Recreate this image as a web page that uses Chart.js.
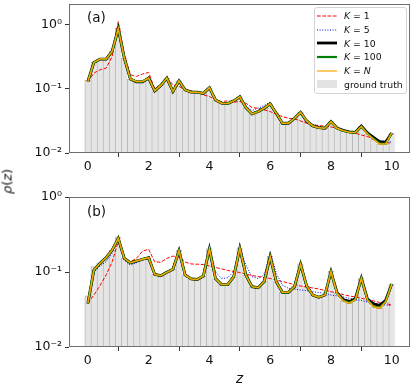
<!DOCTYPE html>
<html>

<head>
  <meta charset="utf-8">
  <title>rho(z)</title>
  <script src="https://cdn.jsdelivr.net/npm/chart.js@4.4.1/dist/chart.umd.min.js"></script>

  <style>
    body {
      margin: 0;
      background-color: white;
      font-family: "DejaVu Sans", sans-serif;
    }

    #wrap {
      position: relative;
      width: 415px;
      height: 390px;
    }

    canvas {
      position: absolute;
      left: 0;
    }

    .tag {
      position: absolute;
      font-size: 13.5px;
      color: #111;
    }

    #ylab {
      position: absolute;
      left: -13px;
      top: 174px;
      width: 40px;
      text-align: center;
      font-size: 13px;
      color: #111;
      transform: rotate(-90deg);
    }

    #legend {
      position: absolute;
      left: 314px;
      top: 7px;
      width: 91px;
      height: 84px;
      border: 1px solid #d4d4d4;
      border-radius: 3px;
      background: rgba(255, 255, 255, 0.8);
      padding-top: 1px;
      font-size: 9.3px;
      color: #111;
    }

    #legend .row {
      height: 13.7px;
      display: flex;
      align-items: center;
      padding-left: 2px;
    }

    #legend svg {
      margin-right: 7px;
    }

    #legend .patch {
      display: inline-block;
      width: 20px;
      height: 8px;
      background: #e3e3e3;
      margin-right: 7px;
    }
  </style>
</head>

<body>
  <div id="wrap">
    <canvas id="chartA" width="415" height="175" style="top:0px"></canvas>
    <canvas id="chartB" width="415" height="215" style="top:175px"></canvas>
    <div class="tag" style="left:87px; top:9px">(a)</div>
    <div class="tag" style="left:87px; top:203px">(b)</div>
    <div id="ylab"><i>ρ</i>(<i>z</i>)</div>
    <div id="legend">
      <div class="row"><svg width="20" height="6"><line x1="0" y1="3" x2="20" y2="3" stroke="#ff0000" stroke-width="1" stroke-dasharray="3.7 1.6"/></svg><span><i>K</i> = 1</span></div>
      <div class="row"><svg width="20" height="6"><line x1="0" y1="3" x2="20" y2="3" stroke="#0000ff" stroke-width="1" stroke-dasharray="1 1.6"/></svg><span><i>K</i> = 5</span></div>
      <div class="row"><svg width="20" height="6"><line x1="0" y1="3" x2="20" y2="3" stroke="#000000" stroke-width="2.8"/></svg><span><i>K</i> = 10</span></div>
      <div class="row"><svg width="20" height="6"><line x1="0" y1="3" x2="20" y2="3" stroke="#008000" stroke-width="2.2"/></svg><span><i>K</i> = 100</span></div>
      <div class="row"><svg width="20" height="6"><line x1="0" y1="3" x2="20" y2="3" stroke="#ffa500" stroke-width="1.2"/></svg><span><i>K</i> = <i>N</i></span></div>
      <div class="row"><span class="patch"></span><span>ground truth</span></div>
    </div>
  </div>

  <script>
    // bin centres (z)
    const zBins = [0, 0.2, 0.4, 0.6, 0.8, 1, 1.2, 1.4, 1.6, 1.8,
      2, 2.2, 2.4, 2.6, 2.8, 3, 3.2, 3.4, 3.6, 3.8,
      4, 4.2, 4.4, 4.6, 4.8, 5, 5.2, 5.4, 5.6, 5.8,
      6, 6.2, 6.4, 6.6, 6.8, 7, 7.2, 7.4, 7.6, 7.8,
      8, 8.2, 8.4, 8.6, 8.8, 9, 9.2, 9.4, 9.6, 9.8, 10];

    const xTicks = [0, 2, 4, 6, 8, 10];
    const yTicks = [0.01, 0.1, 1];
    const yTickLabels = ['10⁻²', '10⁻¹', '10⁰'];

    // ---- panel (a) ----
    const truthA = [0.136, 0.26, 0.29, 0.29, 0.38, 0.88, 0.30, 0.142, 0.13, 0.13,
      0.147, 0.093, 0.113, 0.147, 0.091, 0.133, 0.0965, 0.089, 0.089, 0.085,
      0.104, 0.067, 0.06, 0.059, 0.065, 0.075, 0.051, 0.041, 0.044, 0.05,
      0.058, 0.042, 0.029, 0.029, 0.035, 0.043, 0.0316, 0.0264, 0.0248, 0.0243,
      0.0308, 0.0243, 0.0223, 0.0211, 0.0208, 0.0258, 0.0198, 0.0164, 0.0138, 0.0138, 0.0205];
    const k1A = [0.130, 0.176, 0.198, 0.21, 0.32, 1.12, 0.34, 0.166, 0.156, 0.17,
      0.18, 0.1, 0.118, 0.150, 0.115, 0.109, 0.0965, 0.093, 0.089, 0.0806,
      0.0758, 0.0673, 0.0634, 0.065, 0.062, 0.0634, 0.0598, 0.051, 0.0499, 0.047,
      0.0442, 0.0403, 0.0369, 0.0348, 0.034, 0.0316, 0.0291, 0.0274, 0.0268, 0.0262,
      0.0255, 0.0243, 0.0229, 0.0215, 0.0203, 0.0191, 0.018, 0.0164, 0.0156, 0.0145, 0.0142];
    const k5A = [0.130, 0.258, 0.291, 0.291, 0.383, 0.87, 0.305, 0.142, 0.13, 0.132,
      0.152, 0.093, 0.113, 0.147, 0.091, 0.133, 0.0965, 0.089, 0.089, 0.086,
      0.104, 0.068, 0.061, 0.06, 0.066, 0.078, 0.053, 0.046, 0.05, 0.055,
      0.062, 0.043, 0.03, 0.029, 0.034, 0.042, 0.029, 0.028, 0.026, 0.0245,
      0.03, 0.0243, 0.0222, 0.021, 0.0205, 0.025, 0.0195, 0.016, 0.0145, 0.0145, 0.015];
    const k10A = [0.130, 0.258, 0.291, 0.291, 0.383, 0.866, 0.302, 0.142, 0.128, 0.128,
      0.147, 0.093, 0.113, 0.147, 0.091, 0.133, 0.0965, 0.0887, 0.0887, 0.085,
      0.104, 0.0673, 0.0598, 0.059, 0.065, 0.075, 0.051, 0.0407, 0.0442, 0.0499,
      0.0583, 0.0417, 0.0291, 0.0291, 0.0348, 0.043, 0.0316, 0.0264, 0.0248, 0.0243,
      0.031, 0.0245, 0.0225, 0.0213, 0.021, 0.0262, 0.0205, 0.0175, 0.015, 0.0148, 0.0205];
    const k100A = [0.130, 0.258, 0.291, 0.291, 0.383, 0.866, 0.302, 0.142, 0.13, 0.13,
      0.147, 0.093, 0.113, 0.147, 0.091, 0.133, 0.0965, 0.0887, 0.0887, 0.085,
      0.104, 0.0673, 0.0598, 0.059, 0.065, 0.075, 0.051, 0.0407, 0.0442, 0.0499,
      0.0583, 0.0417, 0.0291, 0.0291, 0.0348, 0.043, 0.0316, 0.0264, 0.0248, 0.0243,
      0.0308, 0.0243, 0.0223, 0.0211, 0.0208, 0.0258, 0.02, 0.0167, 0.0141, 0.014, 0.0205];
    const kNA = [0.130, 0.258, 0.291, 0.291, 0.383, 0.866, 0.302, 0.142, 0.13, 0.13,
      0.147, 0.093, 0.113, 0.147, 0.091, 0.133, 0.0965, 0.0887, 0.0887, 0.085,
      0.104, 0.0673, 0.0598, 0.059, 0.065, 0.075, 0.051, 0.0407, 0.0442, 0.0499,
      0.0583, 0.0417, 0.0291, 0.0291, 0.0348, 0.043, 0.0316, 0.0264, 0.0248, 0.0243,
      0.0308, 0.0243, 0.0223, 0.0211, 0.0208, 0.0258, 0.0198, 0.0164, 0.0138, 0.0138, 0.0205];

    // ---- panel (b) ----
    const truthB = [0.048, 0.118, 0.131, 0.155, 0.196, 0.29, 0.152, 0.133, 0.14, 0.148,
      0.155, 0.093, 0.0893, 0.099, 0.109, 0.195, 0.0912, 0.0807, 0.0795, 0.0885,
      0.205, 0.0818, 0.068, 0.068, 0.0865, 0.21, 0.0912, 0.0637, 0.0618, 0.0743,
      0.162, 0.0743, 0.0536, 0.0536, 0.0637, 0.128, 0.065, 0.0493, 0.046, 0.0493,
      0.102, 0.052, 0.0414, 0.0383, 0.0424, 0.083, 0.0424, 0.0344, 0.0328, 0.0402, 0.0692];
    const k1B = [0.0383, 0.0493, 0.0656, 0.0912, 0.137, 0.253, 0.152, 0.137, 0.152, 0.19,
      0.201, 0.137, 0.1346, 0.152, 0.163, 0.158, 0.136, 0.128, 0.127, 0.126,
      0.12, 0.115, 0.11, 0.105, 0.1015, 0.0985, 0.094, 0.0898, 0.0871, 0.0845,
      0.082, 0.0782, 0.0747, 0.0713, 0.068, 0.065, 0.0631, 0.0612, 0.0594, 0.0567,
      0.0546, 0.0525, 0.05, 0.0479, 0.0464, 0.0446, 0.043, 0.0411, 0.0392, 0.038, 0.0363];
    const k5B = [0.0383, 0.1, 0.12, 0.137, 0.178, 0.296, 0.144, 0.123, 0.133, 0.144,
      0.16, 0.095, 0.0865, 0.097, 0.11, 0.207, 0.095, 0.083, 0.082, 0.09,
      0.224, 0.101, 0.0818, 0.0837, 0.101, 0.216, 0.123, 0.0865, 0.0818, 0.0912,
      0.186, 0.096, 0.067, 0.0605, 0.0594, 0.0575, 0.0565, 0.0546, 0.0533, 0.0518,
      0.0493, 0.0479, 0.0464, 0.0446, 0.043, 0.0417, 0.0398, 0.0386, 0.0374, 0.0363, 0.0356];
    const k10B = [0.038, 0.106, 0.131, 0.155, 0.196, 0.281, 0.152, 0.133, 0.14, 0.148,
      0.155, 0.093, 0.0893, 0.099, 0.1087, 0.192, 0.0912, 0.0807, 0.0795, 0.0885,
      0.203, 0.0818, 0.068, 0.068, 0.0865, 0.207, 0.0912, 0.0637, 0.0618, 0.0743,
      0.16, 0.0743, 0.0536, 0.0536, 0.0637, 0.127, 0.065, 0.0493, 0.046, 0.0493,
      0.101, 0.053, 0.043, 0.0405, 0.044, 0.0824, 0.0435, 0.0375, 0.036, 0.042, 0.0692];
    const k100B = [0.0383, 0.106, 0.131, 0.155, 0.196, 0.281, 0.152, 0.133, 0.14, 0.148,
      0.155, 0.093, 0.0893, 0.099, 0.1087, 0.192, 0.0912, 0.0807, 0.0795, 0.0885,
      0.203, 0.0818, 0.068, 0.068, 0.0865, 0.207, 0.0912, 0.0637, 0.0618, 0.0743,
      0.16, 0.0743, 0.0536, 0.0536, 0.0637, 0.127, 0.065, 0.0493, 0.046, 0.0493,
      0.101, 0.052, 0.0418, 0.0388, 0.0428, 0.0824, 0.0426, 0.0348, 0.0332, 0.0404, 0.0692];
    const kNB = [0.0383, 0.106, 0.131, 0.155, 0.196, 0.281, 0.152, 0.133, 0.14, 0.148,
      0.155, 0.093, 0.0893, 0.099, 0.1087, 0.192, 0.0912, 0.0807, 0.0795, 0.0885,
      0.203, 0.0818, 0.068, 0.068, 0.0865, 0.207, 0.0912, 0.0637, 0.0618, 0.0743,
      0.16, 0.0743, 0.0536, 0.0536, 0.0637, 0.127, 0.065, 0.0493, 0.046, 0.0493,
      0.101, 0.052, 0.0414, 0.0383, 0.0424, 0.0824, 0.0424, 0.0344, 0.0328, 0.0402, 0.0692];

    Chart.defaults.font.family = '"DejaVu Sans", sans-serif';
    Chart.defaults.color = '#111';

    // box around the plot area, like matplotlib spines
    const frame = {
      id: 'frame',
      afterDraw(chart) {
        const a = chart.chartArea;
        const ctx = chart.ctx;
        ctx.save();
        ctx.strokeStyle = '#6f6f6f';
        ctx.lineWidth = 1;
        ctx.strokeRect(a.left + 0.5, a.top + 0.5, a.right - a.left - 1, a.bottom - a.top - 1);
        ctx.restore();
      }
    };

    function pts(arr) {
      return zBins.map((z, i) => ({ x: z, y: arr[i] }));
    }

    function line(label, arr, color, width, dash, order) {
      return {
        type: 'line',
        label: label,
        data: pts(arr),
        borderColor: color,
        borderWidth: width,
        borderDash: dash,
        pointRadius: 0,
        tension: 0,
        fill: false,
        order: order
      };
    }

    function makePanel(id, rows, yMax, padTop, xHeight, showTitle) {
      const datasets = [
        {
          type: 'bar',
          label: 'ground truth',
          data: pts(rows[0]),
          backgroundColor: '#e5e5e5',
          borderColor: '#b8b8b8',
          borderWidth: { left: 1, top: 1, right: 0, bottom: 0 },
          barPercentage: 1,
          categoryPercentage: 1,
          order: 10
        },
        line('K = 1', rows[1], '#ff0000', 1, [3.7, 1.6], 5),
        line('K = 5', rows[2], '#0000ff', 1, [1, 1.6], 4),
        line('K = 10', rows[3], '#000000', 2.8, [], 3),
        line('K = 100', rows[4], '#008000', 2.2, [], 2),
        line('K = N', rows[5], '#ffa500', 1.5, [], 1)
      ];

      return new Chart(document.getElementById(id), {
        type: 'bar',
        data: { datasets: datasets },
        options: {
          responsive: false,
          animation: false,
          layout: { padding: { top: padTop, right: 5, left: 0, bottom: 0 } },
          plugins: {
            legend: { display: false },
            tooltip: { enabled: false }
          },
          scales: {
            x: {
              type: 'linear',
              min: -0.62,
              max: 10.6,
              offset: false,
              afterBuildTicks: s => { s.ticks = xTicks.map(v => ({ value: v })); },
              afterFit: s => { s.height = xHeight; s.paddingLeft = 0; s.paddingRight = 0; },
              ticks: { font: { size: 12.5 }, padding: 2, maxRotation: 0 },
              grid: { drawOnChartArea: false, drawTicks: true, tickLength: 4, color: '#333' },
              border: { display: false },
              title: {
                display: showTitle,
                text: 'z',
                font: { size: 13.5, style: 'italic' },
                padding: { top: 0, bottom: 2 }
              }
            },
            y: {
              type: 'logarithmic',
              min: 0.01,
              max: yMax,
              afterBuildTicks: s => { s.ticks = yTicks.map(v => ({ value: v })); },
              afterFit: s => { s.width = 69; s.paddingTop = 0; s.paddingBottom = 0; },
              ticks: {
                font: { size: 12.5 },
                padding: 3,
                callback: (v) => yTickLabels[yTicks.indexOf(v)]
              },
              grid: { drawOnChartArea: false, drawTicks: true, tickLength: 4, color: '#333' },
              border: { display: false }
            }
          }
        },
        plugins: [frame]
      });
    }

    makePanel('chartA', [truthA, k1A, k5A, k10A, k100A, kNA], 2.1, 4, 22, false);
    makePanel('chartB', [truthB, k1B, k5B, k10B, k100B, kNB], 1, 22, 43, true);
  </script>
</body>

</html>
